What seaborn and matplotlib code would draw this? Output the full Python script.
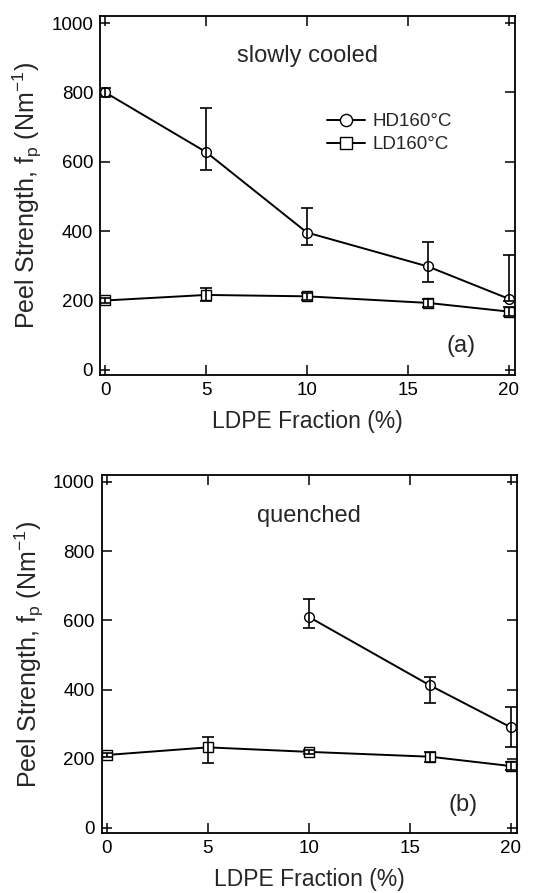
import pandas as pd
import matplotlib
matplotlib.use('Agg')
import matplotlib.pyplot as plt
import seaborn as sns

# data
ldpe = [0, 5, 10, 16, 20]

# (a) slowly cooled
hd_slow = [800, 628, 396, 298, 205]
hd_slow_lo = [788, 576, 361, 252, 198]
hd_slow_hi = [812, 756, 468, 370, 332]
ld_slow = [200, 216, 212, 193, 168]
ld_slow_lo = [194, 198, 202, 182, 154]
ld_slow_hi = [206, 237, 222, 204, 182]

# (b) quenched (HD only measured from 10 %)
ldpe_hd_q = [10, 16, 20]
hd_q = [610, 412, 291]
hd_q_lo = [579, 362, 234]
hd_q_hi = [662, 436, 349]
ld_q = [211, 233, 220, 206, 179]
ld_q_lo = [204, 189, 214, 192, 168]
ld_q_hi = [218, 264, 226, 220, 190]

panels = [
    ('slowly cooled', '(a)', ldpe, hd_slow, hd_slow_lo, hd_slow_hi, ld_slow, ld_slow_lo, ld_slow_hi),
    ('quenched', '(b)', ldpe_hd_q, hd_q, hd_q_lo, hd_q_hi, ld_q, ld_q_lo, ld_q_hi),
]

sns.set_theme(style='ticks')
plt.rcParams['font.family'] = ['Liberation Sans', 'DejaVu Sans']
plt.rcParams['mathtext.fontset'] = 'custom'
plt.rcParams['mathtext.rm'] = 'Liberation Sans'

fig = plt.figure(figsize=(5.47, 8.93), dpi=100)
ax_a = fig.add_axes([0.183, 0.580, 0.758, 0.402])
ax_b = fig.add_axes([0.186, 0.067, 0.759, 0.401])

for ax, (title, tag, x_hd, hd, hd_lo, hd_hi, ld, ld_lo, ld_hi) in zip([ax_a, ax_b], panels):
    df_hd = pd.DataFrame({'x': x_hd, 'y': hd})
    df_ld = pd.DataFrame({'x': ldpe, 'y': ld})

    sns.lineplot(data=df_hd, x='x', y='y', ax=ax, color='black', lw=1.4,
                 marker='o', markersize=7, markerfacecolor='white',
                 markeredgecolor='black', markeredgewidth=1.0, label='HD160°C')
    sns.lineplot(data=df_ld, x='x', y='y', ax=ax, color='black', lw=1.4,
                 marker='s', markersize=6.5, markerfacecolor='white',
                 markeredgecolor='black', markeredgewidth=1.0, label='LD160°C')

    # asymmetric error bars
    ax.errorbar(x_hd, hd, yerr=[[v - l for v, l in zip(hd, hd_lo)], [h - v for v, h in zip(hd, hd_hi)]],
                fmt='none', ecolor='black', elinewidth=1.2, capsize=4, capthick=1.2)
    ax.errorbar(ldpe, ld, yerr=[[v - l for v, l in zip(ld, ld_lo)], [h - v for v, h in zip(ld, ld_hi)]],
                fmt='none', ecolor='black', elinewidth=1.2, capsize=4, capthick=1.2)

    ax.set_xlim(-0.25, 20.3)
    ax.set_ylim(-15, 1020)
    ax.set_xticks([0, 5, 10, 15, 20])
    ax.set_yticks([0, 200, 400, 600, 800, 1000])
    ax.tick_params(direction='in', top=True, right=True, length=7, width=1.1,
                   labelsize=13.5, colors='black', pad=5)
    for s in ax.spines.values():
        s.set_linewidth(1.3)
        s.set_color('black')

    ax.set_xlabel('LDPE Fraction (%)', fontsize=16.5, labelpad=8)
    ax.set_ylabel(r'Peel Strength, f$_\mathregular{p}$ (Nm$^\mathregular{-1}$)', fontsize=18, labelpad=5)

    ax.text(0.5, 0.89 if tag == '(a)' else 0.885, title, transform=ax.transAxes,
            ha='center', va='center', fontsize=17)
    ax.text(0.87, 0.08, tag, transform=ax.transAxes, ha='center', va='center', fontsize=17)

    if ax is ax_a:
        ax.legend(loc='upper left', bbox_to_anchor=(0.53, 0.75), frameon=False,
                  fontsize=13.5, handlelength=2.0, handletextpad=0.4, labelspacing=0.3,
                  markerscale=1.25, borderaxespad=0)
    else:
        ax.get_legend().remove()

fig.savefig('out.png', dpi=100)
